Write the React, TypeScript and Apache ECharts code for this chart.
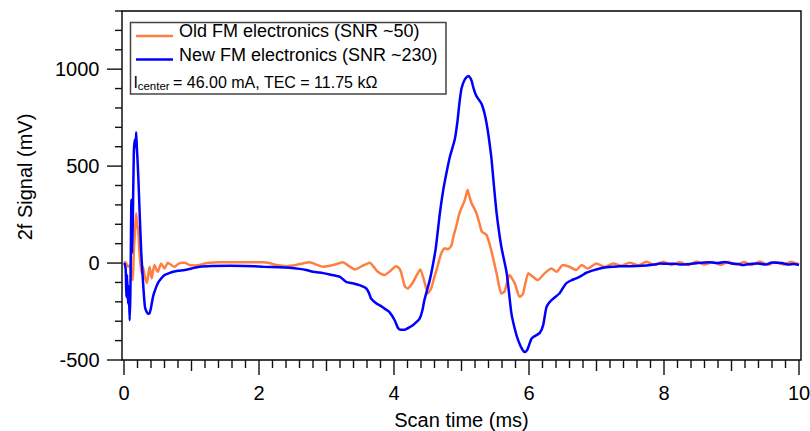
import React, { useEffect, useRef } from "react";
import * as echarts from "echarts";

// ---- axis ticks / labels ----
const X_MIN = 0;
const X_MAX = 10;
const X_MAJOR = 2;
const Y_MIN = -500;
const Y_MAX = 1300;
const Y_MAJOR = 500;
const xMajorTicks = [0, 2, 4, 6, 8, 10];
const xMidTicks = [1, 3, 5, 7, 9];
const yMajorTicks = [-500, 0, 500, 1000];
const xTitle = "Scan time (ms)";
const yTitle = "2f Signal (mV)";
const legendLabels = ["Old FM electronics (SNR ~50)", "New FM electronics (SNR ~230)"];
const noteMain = "I";
const noteSub = "center";
const noteRest = "= 46.00 mA, TEC = 11.75 kΩ";

// ---- series: [time (ms), signal (mV)] ----
const oldFm: [number, number][] = [
  [0, 7], [0.03, 0], [0.06, -19], [0.09, -10], [0.11, -60], [0.13, -88], [0.145, 60],
  [0.16, 145], [0.18, 257], [0.195, 200], [0.21, 171], [0.23, 50], [0.26, -53], [0.28, -19],
  [0.31, -71], [0.34, -102], [0.36, -60], [0.38, -19], [0.41, -79], [0.45, -10], [0.5, -45],
  [0.55, -2], [0.6, -28], [0.65, 2], [0.7, -10], [0.75, -19], [0.8, -5], [0.85, 2], [0.9, 2],
  [0.97, -10], [1.05, -12], [1.12, -10], [1.2, -2], [1.27, 2], [1.4, 4], [1.57, 4], [1.8, 4],
  [2.06, 4], [2.15, 0], [2.26, -10], [2.41, -16], [2.55, -10], [2.65, -2], [2.75, 4], [2.85, -8],
  [2.95, -19], [3.1, -10], [3.24, 4], [3.33, -15], [3.42, -33], [3.53, -15], [3.64, 2], [3.7, -20],
  [3.76, -45], [3.86, -62], [3.95, -40], [4.03, -16], [4.08, -28], [4.11, -53], [4.16, -120],
  [4.2, -131], [4.28, -100], [4.34, -60], [4.39, -33], [4.43, -71], [4.47, -120], [4.5, -157],
  [4.55, -131], [4.6, -70], [4.63, -36], [4.7, 50], [4.75, 76], [4.8, 71], [4.85, 90], [4.88, 136],
  [4.93, 200], [4.97, 258], [5.05, 326], [5.09, 378], [5.12, 340], [5.15, 309], [5.22, 258],
  [5.27, 200], [5.3, 162], [5.37, 145], [5.44, 67], [5.52, -53], [5.59, -157], [5.64, -145],
  [5.71, -62], [5.79, -105], [5.86, -174], [5.91, -160], [5.99, -53], [6.06, -71], [6.13, -88],
  [6.23, -53], [6.33, -28], [6.41, -45], [6.5, -10], [6.6, -19], [6.7, -36], [6.78, -10],
  [6.87, -28], [7.0, -2], [7.12, -19], [7.25, -2], [7.37, -14], [7.49, 2], [7.62, -12], [7.74, 7],
  [7.86, -10], [7.99, 7], [8.11, -10], [8.23, 4], [8.36, -10], [8.48, 8], [8.6, -8], [8.72, 6],
  [8.84, -10], [8.95, 7], [9.07, -8], [9.19, 5], [9.3, -10], [9.42, 8], [9.54, -9], [9.65, 6],
  [9.77, -8], [9.88, 7], [10.0, -6],
];

const newFm: [number, number][] = [
  [0, 0], [0.01, -5], [0.025, -30], [0.035, -175], [0.045, -60], [0.06, -210], [0.07, -120],
  [0.084, -295], [0.095, -150], [0.11, 326], [0.12, 50], [0.13, 200], [0.145, 560], [0.16, 637],
  [0.175, 600], [0.18, 675], [0.19, 600], [0.2, 534], [0.215, 420], [0.23, 275], [0.255, 60],
  [0.28, -88], [0.31, -226], [0.34, -255], [0.36, -262], [0.38, -257], [0.4, -230], [0.43, -174],
  [0.46, -140], [0.5, -105], [0.55, -80], [0.6, -62], [0.67, -52], [0.73, -45], [0.8, -40],
  [0.9, -36], [1.0, -28], [1.12, -19], [1.3, -15], [1.57, -14], [1.8, -15], [2.06, -19], [2.3, -21],
  [2.45, -24], [2.6, -30], [2.7, -36], [2.8, -45], [2.95, -52], [3.05, -59], [3.2, -71], [3.29, -97],
  [3.4, -105], [3.49, -114], [3.59, -131], [3.63, -155], [3.66, -183], [3.74, -209], [3.79, -218],
  [3.86, -235], [3.93, -252], [4.01, -295], [4.06, -335], [4.1, -344], [4.16, -344], [4.22, -333],
  [4.28, -321], [4.33, -305], [4.38, -287], [4.42, -245], [4.45, -192], [4.49, -140], [4.53, -88],
  [4.58, -2], [4.62, 80], [4.68, 258], [4.73, 378], [4.78, 470], [4.83, 551], [4.9, 637],
  [4.94, 730], [4.97, 827], [5.0, 900], [5.05, 948], [5.1, 965], [5.13, 955], [5.15, 939],
  [5.18, 900], [5.22, 862], [5.3, 819], [5.37, 724], [5.44, 551], [5.48, 400], [5.52, 258],
  [5.59, 84], [5.67, -53], [5.74, -261], [5.79, -340], [5.84, -399], [5.9, -445], [5.94, -459],
  [5.97, -450], [5.99, -434], [6.03, -395], [6.06, -382], [6.16, -360], [6.21, -320], [6.26, -226],
  [6.33, -192], [6.45, -157], [6.5, -130], [6.55, -105], [6.62, -90], [6.7, -79], [6.78, -65],
  [6.85, -50], [6.95, -38], [7.05, -28], [7.15, -22], [7.25, -19], [7.35, -17], [7.49, -16],
  [7.6, -15], [7.74, -12], [7.85, -8], [7.94, -2], [8.05, -4], [8.15, -3], [8.25, -8], [8.38, -5],
  [8.5, 0], [8.6, 3], [8.68, 4], [8.8, 0], [8.9, 5], [9.0, -2], [9.1, -5], [9.17, -10], [9.3, -4],
  [9.4, -2], [9.5, -8], [9.6, 3], [9.67, 2], [9.75, 0], [9.85, -8], [9.92, -5], [10.0, -10],
];

const FONT = "'Liberation Sans', Arial, Helvetica, sans-serif";
const ORANGE = "#ff7f40";
const BLUE = "#0000ff";

export default function App() {
  const ref = useRef<HTMLDivElement>(null);

  useEffect(() => {
    document.body.style.margin = "0";
    if (!ref.current) return;
    const chart = echarts.init(ref.current, undefined, { renderer: "svg" });

    const labelStyle = { fontFamily: FONT, fontSize: 20, color: "#000" };

    chart.setOption({
      animation: false,
      backgroundColor: "#ffffff",
      grid: { left: 124, right: 11, top: 11, bottom: 71, show: false, containLabel: false, outerBoundsMode: "none" },
      xAxis: {
        type: "value",
        position: "bottom",
        min: X_MIN,
        max: X_MAX,
        interval: X_MAJOR,
        name: xTitle,
        nameLocation: "middle",
        nameGap: 50,
        nameTextStyle: labelStyle,
        splitLine: { show: false },
        axisLine: { show: false, onZero: false },
        axisTick: { show: false },
        minorTick: { show: false },
        axisLabel: { show: true, margin: 23, formatter: (v: number) => String(v), ...labelStyle },
      },
      yAxis: {
        type: "value",
        position: "left",
        offset: 2.5,
        min: Y_MIN,
        max: Y_MAX,
        interval: Y_MAJOR,
        splitLine: { show: false },
        axisLine: { show: false, onZero: false },
        axisTick: { show: false },
        minorTick: { show: false },
        axisLabel: {
          show: true,
          margin: 22,
          showMaxLabel: false,
          formatter: (v: number) => (v === Y_MAX ? "" : String(v)),
          ...labelStyle,
        },
      },
      series: [
        {
          name: legendLabels[0],
          type: "line",
          data: oldFm,
          showSymbol: false,
          smooth: 0.2,
          lineStyle: { color: ORANGE, width: 2.5 },
          itemStyle: { color: ORANGE },
          z: 2,
        },
        {
          name: legendLabels[1],
          type: "line",
          data: newFm,
          showSymbol: false,
          smooth: 0.2,
          lineStyle: { color: BLUE, width: 2.5 },
          itemStyle: { color: BLUE },
          z: 3,
        },
      ],
    });

    // ---- frame and ticks, positioned through the chart's own scales ----
    const toPx = (x: number, y: number) =>
      chart.convertToPixel({ gridIndex: 0 }, [x, y]) as unknown as number[];
    const [xLeftData, yBottom] = toPx(X_MIN, Y_MIN);
    const [xRightData, yTop] = toPx(X_MAX, Y_MAX);
    const frameL = Math.round(xLeftData - 2.5);
    const frameR = Math.round(xRightData + 1.7);
    const frameT = Math.round(yTop);
    const frameB = Math.round(yBottom);

    const xMinorTicks: number[] = [];
    for (let k = 1; k < 50; k++) if (k % 5 !== 0) xMinorTicks.push(k / 5);
    const yMinorTicks: number[] = [];
    for (let k = -4; k <= 13; k++) if (k % 5 !== 0) yMinorTicks.push(k * 100);

    const tickEls: any[] = [];
    const xTick = (v: number, len: number) => {
      const px = toPx(v, Y_MIN)[0];
      tickEls.push({
        type: "rect",
        shape: { x: px - 0.7, y: frameB, width: 1.4, height: len },
        style: { fill: "#111" },
        z: 50,
      });
    };
    const yTick = (v: number, len: number) => {
      const py = toPx(X_MIN, v)[1];
      tickEls.push({
        type: "rect",
        shape: { x: frameL - len, y: py - 0.7, width: len, height: 1.4 },
        style: { fill: "#111" },
        z: 50,
      });
    };
    xMajorTicks.forEach((v) => xTick(v, 15));
    xMidTicks.forEach((v) => xTick(v, 11));
    xMinorTicks.forEach((v) => xTick(v, 8));
    yMajorTicks.forEach((v) => yTick(v, 15));
    yMinorTicks.forEach((v) => yTick(v, 7));

    chart.setOption({
      graphic: [
        {
          type: "rect",
          shape: { x: frameL, y: frameT, width: frameR - frameL, height: frameB - frameT },
          style: { fill: "none", stroke: "#000", lineWidth: 1.4 },
          z: 1,
        },
        ...tickEls,
        {
          type: "text",
          x: 25,
          y: 177,
          rotation: Math.PI / 2,
          style: {
            text: yTitle,
            fontFamily: FONT,
            fontSize: 20,
            fill: "#000",
            align: "center",
            verticalAlign: "middle",
          },
        },
        {
          type: "group",
          z: 100,
          children: [
            {
              type: "rect",
              shape: { x: 130.5, y: 22.5, width: 315.5, height: 71.5 },
              style: { fill: "#fff", stroke: "#444", lineWidth: 1.5 },
              z: 100,
            },
            {
              type: "line",
              shape: { x1: 136, y1: 36, x2: 173, y2: 36 },
              style: { stroke: ORANGE, lineWidth: 2.5 },
              z: 101,
            },
            {
              type: "line",
              shape: { x1: 136, y1: 59.5, x2: 173, y2: 59.5 },
              style: { stroke: BLUE, lineWidth: 2.5 },
              z: 101,
            },
            {
              type: "text",
              x: 179,
              y: 31,
              style: { text: legendLabels[0], fontFamily: FONT, fontSize: 18, fill: "#000", align: "left", verticalAlign: "middle" },
              z: 101,
            },
            {
              type: "text",
              x: 179,
              y: 54.5,
              style: { text: legendLabels[1], fontFamily: FONT, fontSize: 18, fill: "#000", align: "left", verticalAlign: "middle" },
              z: 101,
            },
            {
              type: "text",
              x: 133.5,
              y: 82,
              style: { text: noteMain, fontFamily: FONT, fontSize: 16, fill: "#000", align: "left", verticalAlign: "middle" },
              z: 101,
            },
            {
              type: "text",
              x: 137.7,
              y: 86,
              style: { text: noteSub, fontFamily: FONT, fontSize: 11.5, fill: "#000", align: "left", verticalAlign: "middle" },
              z: 101,
            },
            {
              type: "text",
              x: 173,
              y: 82,
              style: { text: noteRest, fontFamily: FONT, fontSize: 16, fill: "#000", align: "left", verticalAlign: "middle" },
              z: 101,
            },
          ],
        },
      ],
    });

    return () => chart.dispose();
  }, []);

  return <div ref={ref} style={{ width: 810, height: 431 }} />;
}
